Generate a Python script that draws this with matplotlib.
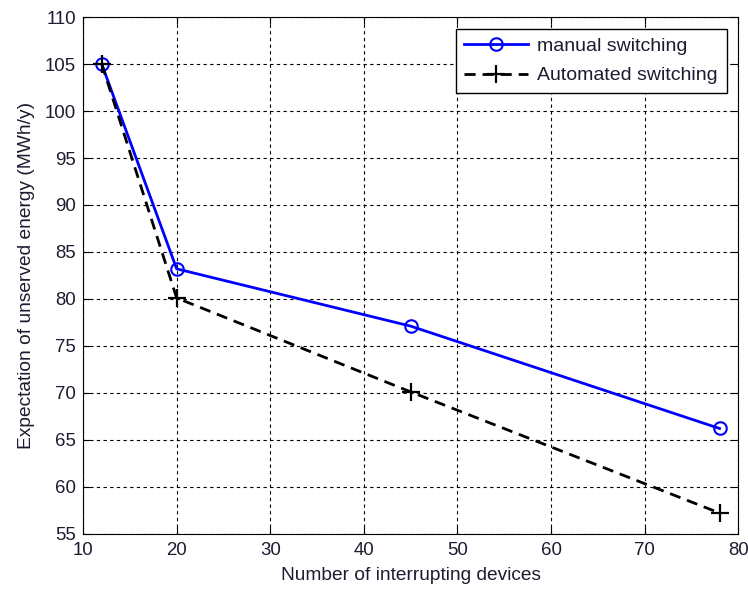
import matplotlib
matplotlib.use('Agg')
import matplotlib.pyplot as plt

devices = [12, 20, 45, 78]
manual = [105, 83.2, 77.1, 66.2]
automated = [105, 80.1, 70.1, 57.2]

plt.rcParams['font.family'] = 'Liberation Sans'
plt.rcParams['font.size'] = 13.4
text_col = '#1c1c30'

fig = plt.figure(figsize=(7.48, 5.91), dpi=100)
ax = fig.add_axes([0.111, 0.097, 0.876, 0.874])

ax.plot(devices, manual, color='#0000FF', linestyle='solid', linewidth=2,
        marker='o', markersize=9, markerfacecolor='none', markeredgewidth=1.5,
        label='manual switching')
ax.plot(devices, automated, color='black', linestyle='--', linewidth=2,
        dashes=(4, 2.5), marker='+', markersize=13, markeredgewidth=1.6,
        label='Automated switching')

ax.set_xlim(10, 80)
ax.set_ylim(55, 110)
ax.set_xticks(range(10, 81, 10))
ax.set_yticks(range(55, 111, 5))
ax.grid(True, color='black', linestyle=(0, (3, 3)), linewidth=0.8)
ax.tick_params(direction='in', top=True, right=True, length=5,
               labelsize=13.4, labelcolor=text_col)
ax.tick_params(axis='x', pad=6)
ax.tick_params(axis='y', pad=5)
ax.set_xlabel('Number of interrupting devices', fontsize=13.8, color=text_col,
              labelpad=6)
ax.set_ylabel('Expectation of unserved energy (MWh/y)', fontsize=13.8,
              color=text_col, labelpad=7)

leg = ax.legend(loc='upper right', fancybox=False, framealpha=1,
                edgecolor='black', handlelength=3.3, handletextpad=0.45,
                fontsize=14, borderpad=0.45, labelspacing=0.6,
                borderaxespad=0.6)
leg.get_frame().set_linewidth(1)
for t in leg.get_texts():
    t.set_color(text_col)

plt.savefig('out.png')
